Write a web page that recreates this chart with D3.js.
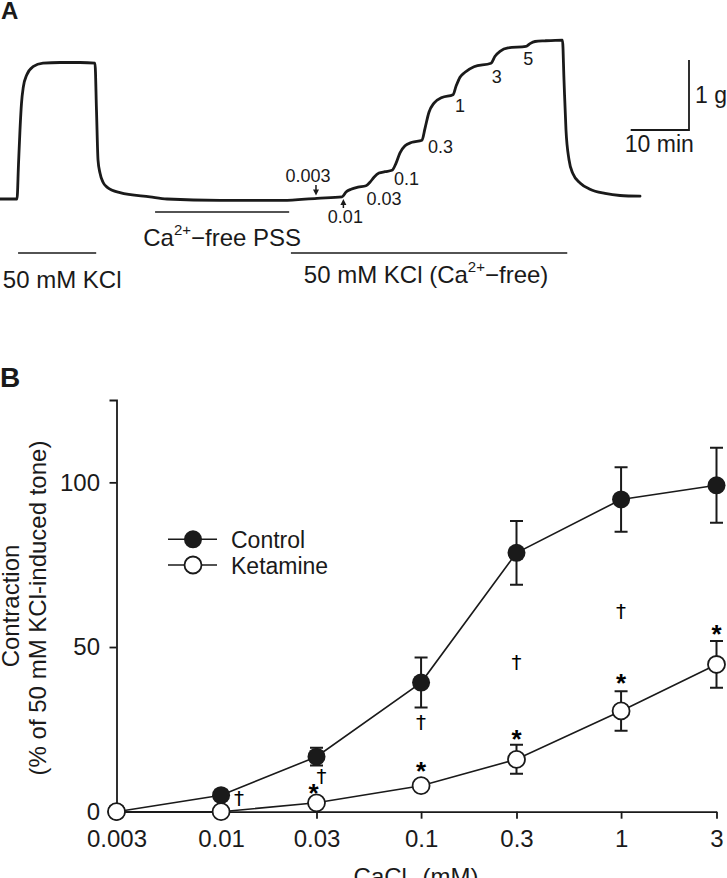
<!DOCTYPE html>
<html><head><meta charset="utf-8">
<script src="https://cdn.jsdelivr.net/npm/d3@7"></script>
<style>
body{margin:0;background:#fff}
svg{display:block}
text{font-family:"Liberation Sans",Arial,Helvetica,sans-serif;fill:#1a1a1a}
</style></head>
<body><svg id="c" width="727" height="878"></svg>
<script>
// ---------- Panel A data (isometric tension trace) ----------
const traceTime = [0, 2.92, 3.17, 3.43, 3.69, 4.0, 4.58, 5.66, 7.38, 10.29, 13.72, 16.29, 16.55, 16.81, 17.15, 17.67, 18.35, 20.58, 25.73, 28.64, 37.74, 48.54, 54.37, 58.66, 59.35, 60.21, 61.41, 62.78, 63.46, 64.15, 65.01, 66.04, 67.24, 67.92, 68.61, 69.47, 70.67, 72.38, 72.9, 73.58, 74.44, 75.81, 77.7, 78.22, 78.9, 79.76, 81.3, 84.22, 84.91, 85.76, 87.14, 90.22, 90.91, 91.77, 93.48, 96.48, 96.74, 97.08, 97.6, 98.28, 99.49, 101.2, 103.77, 106.35, 109.78];
const traceTension = [0, 0, 0.49, 0.99, 1.37, 1.6, 1.77, 1.89, 1.94, 1.95, 1.95, 1.94, 1.27, 0.56, 0.37, 0.24, 0.17, 0.09, 0.03, 0, -0.02, -0.02, 0.01, 0.03, 0.10, 0.14, 0.17, 0.19, 0.24, 0.31, 0.37, 0.39, 0.41, 0.51, 0.66, 0.76, 0.81, 0.84, 1.01, 1.24, 1.37, 1.45, 1.49, 1.61, 1.74, 1.81, 1.89, 1.94, 2.04, 2.11, 2.16, 2.18, 2.22, 2.25, 2.26, 2.27, 1.7, 0.99, 0.56, 0.36, 0.23, 0.14, 0.08, 0.05, 0.04];
const doseLabels = ["0.003", "0.01", "0.03", "0.1", "0.3", "1", "3", "5"];
const doseTime = [54.2, 58.9, 62.8, 67.2, 72.4, 77.7, 84.2, 90.2];
const protocolStart = [3.1, 26.6, 49.9];
const protocolEnd = [16.5, 49.6, 97.3];
const scaleBarMin = 10, scaleBarG = 1;

// ---------- Panel B data ----------
const concentrations = [0.003, 0.01, 0.03, 0.1, 0.3, 1, 3];
const tickLabels = ["0.003", "0.01", "0.03", "0.1", "0.3", "1", "3"];
const controlMean = [0, 5.0, 16.7, 39.2, 78.6, 94.8, 99.1];
const controlSEM = [0, 1.5, 2.7, 7.6, 9.7, 9.8, 11.4];
const ketamineMean = [0, 0, 2.7, 7.9, 15.9, 30.6, 44.7];
const ketamineSEM = [0, 0, 1.0, 1.5, 4.4, 6.0, 7.1];
const yTickValues = [0, 50, 100];
const sigConc = [0.01, 0.03, 0.03, 0.1, 0.1, 0.3, 0.3, 1, 1, 3];
const sigSymbol = ["\u2020", "\u2020", "*", "\u2020", "*", "\u2020", "*", "\u2020", "*", "*"];
const sigValue = [3.8, 10.6, 7.3, 27.0, 13.9, 45.2, 23.6, 60.7, 40.7, 55.6];

// ---------- drawing ----------
const ink = "#1a1a1a";
const svg = d3.select("#c");

// Panel labels
svg.append("text").attr("x", 1).attr("y", 19).attr("font-size", 24).attr("font-weight", "bold").text("A");
svg.append("text").attr("x", 0).attr("y", 387).attr("font-size", 28).attr("font-weight", "bold").text("B");

// Panel A scales
const xA = d3.scaleLinear().domain([0, 110]).range([0, 641.3]);
const yA = d3.scaleLinear().domain([0, 1]).range([199, 129]);

svg.append("path")
  .datum(d3.zip(traceTime, traceTension))
  .attr("d", d3.line().x(d => xA(d[0])).y(d => yA(d[1])).curve(d3.curveMonotoneX))
  .attr("fill", "none").attr("stroke", ink).attr("stroke-width", 2.8)
  .attr("stroke-linejoin", "round").attr("stroke-linecap", "round");

// dose labels
const doseDx = [-8, 2, 18, 14.7, 18.4, 7, 5.8, 2.4];
const doseBase = [182, 223, 205, 185, 153, 112, 83, 65];
doseLabels.forEach((lab, i) => {
  svg.append("text").attr("x", xA(doseTime[i]) + doseDx[i]).attr("y", doseBase[i])
    .attr("text-anchor", "middle").attr("font-size", 18).text(lab);
});
// arrows for the first two doses
function arrow(x, y0, y1) {
  const dir = Math.sign(y1 - y0);
  svg.append("line").attr("x1", x).attr("x2", x).attr("y1", y0).attr("y2", y1 - dir * 4)
    .attr("stroke", ink).attr("stroke-width", 1.5);
  svg.append("path").attr("d", `M${x - 3},${y1 - dir * 6}L${x + 3},${y1 - dir * 6}L${x},${y1}Z`).attr("fill", ink);
}
arrow(xA(doseTime[0]), 185, 195.5);
arrow(xA(doseTime[1]), 208, 199);

// protocol bars
const barY = [253, 212, 253];
protocolStart.forEach((s, i) => {
  svg.append("line").attr("x1", xA(s)).attr("x2", xA(protocolEnd[i])).attr("y1", barY[i]).attr("y2", barY[i])
    .attr("stroke", ink).attr("stroke-width", 1.5);
});
function supText(x, y, parts, anchor) {
  const t = svg.append("text").attr("x", x).attr("y", y).attr("font-size", 24).attr("text-anchor", anchor || "start");
  parts.forEach(p => {
    const ts = t.append("tspan").text(p.t);
    if (p.sup) ts.attr("font-size", 15).attr("dy", -11);
    if (p.after) ts.attr("dy", 11);
  });
  return t;
}
supText((xA(protocolStart[0]) + xA(protocolEnd[0])) / 2 + 5, 288, [{t: "50 mM KCl"}], "middle");
supText((xA(protocolStart[1]) + xA(protocolEnd[1])) / 2, 246, [{t: "Ca"}, {t: "2+", sup: true}, {t: "\u2212free PSS", after: true}], "middle");
supText((xA(protocolStart[2]) + xA(protocolEnd[2])) / 2 - 3, 283, [{t: "50 mM KCl (Ca"}, {t: "2+", sup: true}, {t: "\u2212free)", after: true}], "middle");

// scale bar
const sbX = 689, sbY = 130;
const sbW = xA(scaleBarMin) - xA(0), sbH = yA(0) - yA(scaleBarG);
svg.append("path").attr("d", `M${sbX - sbW},${sbY}H${sbX}V${sbY - sbH}`)
  .attr("fill", "none").attr("stroke", ink).attr("stroke-width", 1.8);
svg.append("text").attr("x", sbX + 6).attr("y", 103).attr("font-size", 23).text(scaleBarG + " g");
svg.append("text").attr("x", sbX - sbW / 2 - 0.5).attr("y", 152).attr("text-anchor", "middle").attr("font-size", 23).text(scaleBarMin + " min");

// ---------- Panel B ----------
const xB = d3.scaleLog().domain([0.003, 3]).range([116.5, 716.5]);
const yB = d3.scaleLinear().domain([0, 125]).range([811.7, 400]);

const yAx = svg.append("g").attr("transform", "translate(116.5,0)")
  .call(d3.axisLeft(yB).tickValues(yTickValues).tickSize(7).tickSizeOuter(7).tickPadding(9.5));
const xAx = svg.append("g").attr("transform", "translate(0,811.7)")
  .call(d3.axisBottom(xB).tickValues(concentrations)
    .tickFormat(d => tickLabels[concentrations.indexOf(d)]).tickSize(7).tickSizeOuter(0).tickPadding(11));
[yAx, xAx].forEach(g => {
  g.attr("font-family", null).attr("font-size", null);
  g.selectAll("path,line").attr("stroke", ink).attr("stroke-width", 1.8);
  g.selectAll("text").attr("font-size", 24).attr("fill", ink)
    .style("font-family", '"Liberation Sans",Arial,sans-serif');
});

// y axis title
svg.append("text").attr("transform", "translate(19,606) rotate(-90)").attr("text-anchor", "middle")
  .attr("font-size", 24).text("Contraction");
svg.append("text").attr("transform", "translate(46,608) rotate(-90)").attr("text-anchor", "middle")
  .attr("font-size", 24).text("(% of 50 mM KCl-induced tone)");
// x axis title
const xt = svg.append("text").attr("x", 416).attr("y", 885).attr("text-anchor", "middle").attr("font-size", 24);
xt.append("tspan").text("CaCl");
xt.append("tspan").attr("font-size", 16).attr("dy", 6).text("2");
xt.append("tspan").attr("dy", -6).text(" (mM)");

// error bars
function errBars(mean, sem) {
  concentrations.forEach((c, i) => {
    if (sem[i] <= 0) return;
    const x = xB(c), y1 = yB(mean[i] + sem[i]), y2 = yB(mean[i] - sem[i]);
    svg.append("path").attr("d", `M${x},${y1}V${y2}M${x - 6.5},${y1}H${x + 6.5}M${x - 6.5},${y2}H${x + 6.5}`)
      .attr("fill", "none").attr("stroke", ink).attr("stroke-width", 2);
  });
}
errBars(controlMean, controlSEM);
errBars(ketamineMean, ketamineSEM);

const line = d3.line().x(d => xB(d[0])).y(d => yB(d[1]));
svg.append("path").datum(d3.zip(concentrations, controlMean)).attr("d", line)
  .attr("fill", "none").attr("stroke", ink).attr("stroke-width", 1.6);
svg.append("path").datum(d3.zip(concentrations, ketamineMean)).attr("d", line)
  .attr("fill", "none").attr("stroke", ink).attr("stroke-width", 1.6);

svg.append("g").selectAll("circle").data(d3.zip(concentrations, controlMean)).join("circle")
  .attr("cx", d => xB(d[0])).attr("cy", d => yB(d[1])).attr("r", 9).attr("fill", ink);
svg.append("g").selectAll("circle").data(d3.zip(concentrations, ketamineMean)).join("circle")
  .attr("cx", d => xB(d[0])).attr("cy", d => yB(d[1])).attr("r", 8.5)
  .attr("fill", "#fff").attr("stroke", ink).attr("stroke-width", 1.8);

// significance marks
const sigDx = [18, 5, -3, 0, 0, 0, 0, 0, 0, 0];
sigSymbol.forEach((s, i) => {
  const isStar = s === "*";
  svg.append("text").attr("x", xB(sigConc[i]) + sigDx[i])
    .attr("y", yB(sigValue[i]) + (isStar ? 14.5 : 6))
    .attr("text-anchor", "middle").attr("font-size", isStar ? 26 : 20)
    .attr("font-weight", isStar ? "bold" : "normal")
    .style("font-family", isStar ? '"Liberation Sans",Arial,sans-serif' : '"DejaVu Sans",sans-serif')
    .style("fill", "#000").text(s);
});

// legend
const legY = [539.3, 565];
const legName = ["Control", "Ketamine"];
legY.forEach((y, i) => {
  svg.append("line").attr("x1", 168).attr("x2", 217).attr("y1", y).attr("y2", y).attr("stroke", ink).attr("stroke-width", 1.6);
  svg.append("circle").attr("cx", 193).attr("cy", y).attr("r", i === 0 ? 9 : 8.5)
    .attr("fill", i === 0 ? ink : "#fff").attr("stroke", ink).attr("stroke-width", i === 0 ? 0 : 1.8);
  svg.append("text").attr("x", 231).attr("y", y + 8.5).attr("font-size", 23).text(legName[i]);
});
</script>
</body></html>
